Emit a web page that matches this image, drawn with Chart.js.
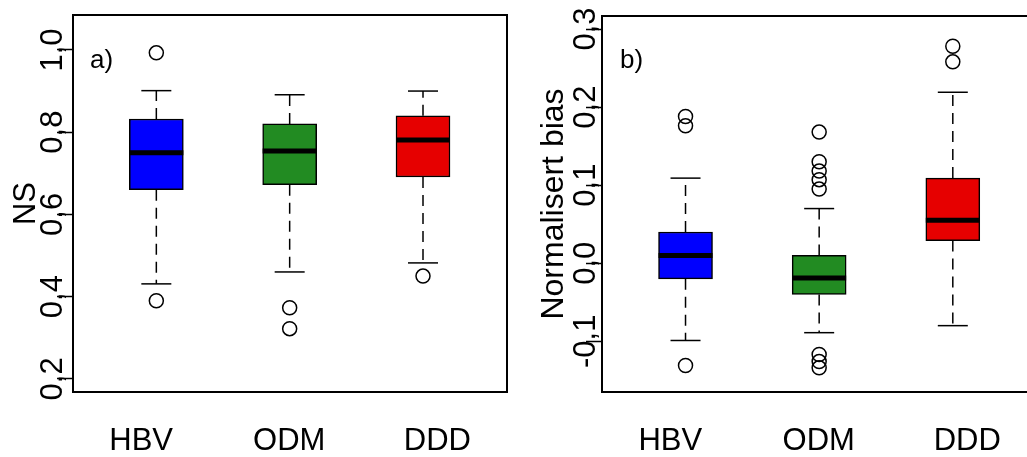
<!DOCTYPE html>
<html>
<head>
<meta charset="utf-8">
<script src="https://cdn.jsdelivr.net/npm/chart.js@4.4.1/dist/chart.umd.min.js"></script>
<style>
  html, body { margin: 0; padding: 0; background: #fff; overflow: hidden; width: 1027px; height: 457px; }
  #wrap { position: relative; width: 1027px; height: 457px; overflow: hidden; }
  #ca { position: absolute; left: 0; top: 0; }
  #cb { position: absolute; left: 515px; top: 0; }
</style>
</head>
<body>
<div id="wrap">
  <canvas id="ca" width="515" height="457"></canvas>
  <canvas id="cb" width="530" height="457"></canvas>
</div>
<script>
// Boxplots of NS and normalised bias for three models (HBV, ODM, DDD)

const GROUPS = ['HBV', 'ODM', 'DDD'];
const BOX_COLORS = ['#0000ff', '#228b22', '#e60000'];

// ---- panel a) NS ----
const NS_LOW  = [0.431, 0.460, 0.482];
const NS_Q1   = [0.660, 0.672, 0.691];
const NS_MED  = [0.750, 0.754, 0.781];
const NS_Q3   = [0.832, 0.820, 0.840];
const NS_HIGH = [0.901, 0.891, 0.900];
const NS_OUT  = [[0.993, 0.390], [0.373, 0.322], [0.450]];
const NS_TICKS = [0.2, 0.4, 0.6, 0.8, 1.0];

// ---- panel b) normalised bias ----
const BIAS_LOW  = [-0.099, -0.089, -0.080];
const BIAS_Q1   = [-0.020, -0.040, 0.029];
const BIAS_MED  = [0.010, -0.019, 0.055];
const BIAS_Q3   = [0.040, 0.010, 0.109];
const BIAS_HIGH = [0.109, 0.070, 0.219];
const BIAS_OUT  = [[0.188, 0.176, -0.131],
                   [0.168, 0.130, 0.118, 0.107, 0.095, -0.117, -0.126, -0.134],
                   [0.278, 0.258]];
const BIAS_TICKS = [-0.1, 0.0, 0.1, 0.2, 0.3];

const FAMILY = '"Liberation Sans", Arial, Helvetica, sans-serif';
const FONT_SIZE = 31;
const TICK_LEN = 16;

Chart.defaults.font.family = FAMILY;
Chart.defaults.color = '#000';

function fmtTick(v) {
    return (Math.round(v * 10) / 10).toFixed(1).replace('.', ',');
}

function widestLabel(labels) {
    const c = document.createElement('canvas').getContext('2d');
    c.font = FONT_SIZE + 'px ' + FAMILY;
    return Math.max(...labels.map(t => c.measureText(t).width));
}

// frame round the plot area + panel tag
const framePlugin = {
    id: 'frame',
    afterDraw(chart, args, opts) {
        const { ctx, chartArea: a } = chart;
        ctx.save();
        ctx.strokeStyle = '#000';
        ctx.lineWidth = 2;
        ctx.strokeRect(a.left, a.top, a.right - a.left, a.bottom - a.top);
        ctx.fillStyle = '#000';
        ctx.font = '26px ' + FAMILY;
        ctx.textBaseline = 'alphabetic';
        ctx.fillText(opts.tag, a.left + opts.tagDx, a.top + opts.tagDy);
        ctx.restore();
    }
};

function makePanel(id, p) {
    const whisk = [], caps = [], meds = [], outs = [], boxes = [];
    GROUPS.forEach((g, i) => {
        const x = i + 1;
        boxes.push({ x, y: [p.q1[i], p.q3[i]] });
        meds.push({ x, y: p.med[i] });
        caps.push({ x, y: p.low[i] }, { x, y: p.high[i] });
        whisk.push({ x, y: p.q3[i] }, { x, y: p.high[i] }, { x, y: null });
        whisk.push({ x, y: p.q1[i] }, { x, y: p.low[i] }, { x, y: null });
        p.out[i].forEach(v => outs.push({ x, y: v }));
    });

    const tickLabels = p.ticks.map(fmtTick);
    const pad = p.yWidth - TICK_LEN - widestLabel(tickLabels) / 2 - p.labelX;

    return new Chart(document.getElementById(id), {
        type: 'bar',
        data: {
            datasets: [
                { type: 'line', data: whisk, borderColor: '#000', borderWidth: 1.5,
                  borderDash: [11, 7], pointRadius: 0, spanGaps: false, order: 4 },
                { type: 'bar', data: boxes, backgroundColor: BOX_COLORS, borderColor: '#000',
                  borderWidth: 1.5, borderSkipped: false, barThickness: 54, order: 3 },
                { type: 'scatter', data: meds, pointStyle: 'line', pointRadius: 27,
                  borderColor: '#000', borderWidth: 5, order: 2 },
                { type: 'scatter', data: caps, pointStyle: 'line', pointRadius: 15,
                  borderColor: '#000', borderWidth: 1.5, order: 2 },
                { type: 'scatter', data: outs, pointStyle: 'circle', pointRadius: 7,
                  borderColor: '#000', borderWidth: 1.5, backgroundColor: 'rgba(0,0,0,0)', order: 1 }
            ]
        },
        options: {
            responsive: false,
            animation: false,
            layout: { autoPadding: false, padding: { left: 0, right: 8, top: p.top, bottom: 0 } },
            plugins: {
                legend: { display: false },
                tooltip: { enabled: false },
                frame: { tag: p.tag, tagDx: p.tagDx, tagDy: p.tagDy }
            },
            scales: {
                x: {
                    type: 'linear', display: false, offset: false,
                    min: 0.375, max: 3.63, grid: { offset: false }
                },
                xl: {
                    type: 'linear', position: 'bottom', offset: false,
                    min: 0.54, max: 3.47,
                    grid: { display: false, offset: false },
                    border: { display: false },
                    afterBuildTicks: s => { s.ticks = GROUPS.map((g, i) => ({ value: i + 1 })); },
                    afterFit: s => {
                        s.height = 457 - p.bottom;
                        s.paddingLeft = 0; s.paddingRight = 0;
                    },
                    ticks: {
                        font: { size: FONT_SIZE }, padding: 23, maxRotation: 0, autoSkip: false,
                        callback: v => GROUPS[Math.round(v) - 1]
                    }
                },
                y: {
                    type: 'linear', min: p.yMin, max: p.yMax,
                    afterBuildTicks: s => { s.ticks = p.ticks.map(v => ({ value: v })); },
                    afterFit: s => {
                        s.width = p.yWidth;
                        s.paddingTop = 0; s.paddingBottom = 0;
                    },
                    grid: { display: true, drawOnChartArea: false, drawTicks: true,
                            tickLength: TICK_LEN, tickColor: '#000', tickWidth: 1.5 },
                    border: { display: false },
                    ticks: {
                        font: { size: FONT_SIZE }, minRotation: 90, maxRotation: 90,
                        crossAlign: 'center', padding: pad, autoSkip: false,
                        callback: v => fmtTick(v)
                    },
                    title: {
                        display: true, text: p.title, font: { size: p.titleSize },
                        padding: { top: p.titlePad, bottom: 0 }
                    }
                }
            }
        },
        plugins: [framePlugin]
    });
}

makePanel('ca', {
    low: NS_LOW, q1: NS_Q1, med: NS_MED, q3: NS_Q3, high: NS_HIGH, out: NS_OUT,
    ticks: NS_TICKS, yMin: 0.168, yMax: 1.085,
    top: 15, bottom: 392, yWidth: 73, labelX: 53,
    title: 'NS', titleSize: 31, titlePad: 8,
    tag: 'a)', tagDx: 17, tagDy: 53
});

makePanel('cb', {
    low: BIAS_LOW, q1: BIAS_Q1, med: BIAS_MED, q3: BIAS_Q3, high: BIAS_HIGH, out: BIAS_OUT,
    ticks: BIAS_TICKS, yMin: -0.165, yMax: 0.3167,
    top: 16, bottom: 392, yWidth: 87, labelX: 71,
    title: 'Normalisert bias', titleSize: 32, titlePad: 20,
    tag: 'b)', tagDx: 18, tagDy: 52
});
</script>
</body>
</html>
